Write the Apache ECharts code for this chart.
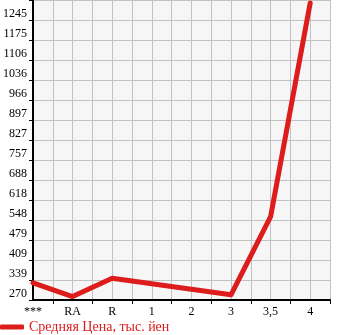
<!DOCTYPE html>
<html>
<head>
<meta charset="utf-8">
<script src="https://cdn.jsdelivr.net/npm/echarts@6/dist/echarts.min.js"></script>
<style>
html,body{margin:0;padding:0;background:#fff;}
#c{width:345px;height:335px;}
</style>
</head>
<body>
<div id="c"></div>
<script>
var categories = ['***', 'RA', 'R', '1', '2', '3', '3,5', '4'];
var prices = [330, 282, 346, null, null, 288, 560, 1304];
var yTickLabels = ['270', '339', '409', '479', '548', '618', '688', '757', '827', '897', '966', '1036', '1106', '1175', '1245', ''];
var seriesName = 'Средняя Цена, тыс. йен';

var yMin = 270;
var yStep = (1245 - 270) / 14;
var yMax = yMin + 15 * yStep;

var points = categories.map(function (c, i) { return [i, prices[i]]; });
var labelVals = categories.map(function (c, i) { return i; });
var tickVals = categories.map(function (c, i) { return i + 0.5; });

var font = '"Liberation Serif", "DejaVu Serif", serif';
var chart = echarts.init(document.getElementById('c'), null, {renderer: 'canvas'});
chart.setOption({
  animation: false,
  backgroundColor: '#ffffff',
  grid: {left: 31, right: 15, top: 0, bottom: 35, show: true, backgroundColor: '#f6f6f6', borderWidth: 0, containLabel: false},
  legend: {
    left: 0, top: 320, padding: 0, itemWidth: 24, itemHeight: 5, icon: 'roundRect',
    data: [{name: seriesName, itemStyle: {color: '#dd1c1c'}}],
    textStyle: {color: '#dd1c1c', fontFamily: font, fontSize: 14}
  },
  xAxis: [{
    type: 'value', min: 0, max: 7.5, interval: 0.5,
    axisLine: {show: true, onZero: false, lineStyle: {color: '#000', width: 2}},
    axisTick: {show: true, customValues: tickVals, length: 4, lineStyle: {color: '#000', width: 1}},
    axisLabel: {customValues: labelVals, color: '#000', fontFamily: font, fontSize: 12, margin: 6,
      formatter: function (v) { return categories[Math.round(v)]; }},
    splitLine: {show: false}
  }, {
    type: 'value', min: 0, max: 7.5, interval: 0.5, position: 'bottom',
    axisLine: {show: false}, axisTick: {show: false}, axisLabel: {show: false},
    splitLine: {show: true, lineStyle: {color: '#c2c2c2', width: 1}}
  }],
  yAxis: {
    type: 'value', min: yMin, max: yMax, interval: yStep,
    axisLine: {show: true, lineStyle: {color: '#000', width: 2}},
    axisTick: {show: true, length: 4, lineStyle: {color: '#000', width: 1}},
    axisLabel: {color: '#000', fontFamily: font, fontSize: 12, margin: 6, verticalAlign: 'bottom',
      formatter: function (v) { var i = Math.round((v - yMin) / yStep); return yTickLabels[i] || ''; }},
    splitLine: {show: true, lineStyle: {color: '#c2c2c2', width: 1}}
  },
  series: [{
    name: seriesName, type: 'line', xAxisIndex: 0, data: points,
    connectNulls: true, showSymbol: false, symbol: 'none', smooth: false, clip: false,
    lineStyle: {color: '#dd1c1c', width: 5, cap: 'round', join: 'round'},
    itemStyle: {color: '#dd1c1c'}
  }]
});
</script>
</body>
</html>
